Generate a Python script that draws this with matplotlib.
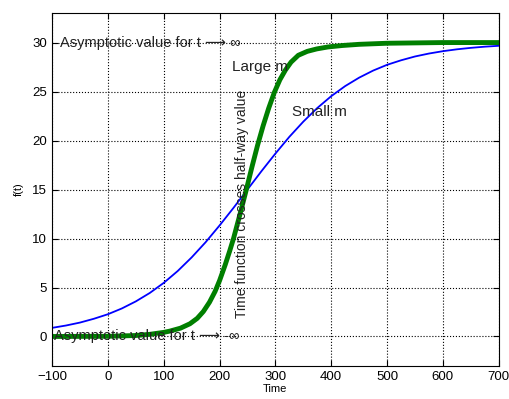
import matplotlib.pyplot as plt

# DATA
t_small = [-100, -75, -50, -25, 0, 25, 50, 75, 100, 125, 150, 175, 200, 225, 250,
           275, 300, 325, 350, 375, 400, 425, 450, 475, 500, 525, 550, 575, 600,
           625, 650, 675, 700]
f_small = [0.88, 1.12, 1.42, 1.81, 2.27, 2.86, 3.58, 4.44, 5.47, 6.68, 8.07, 9.62,
           11.33, 13.13, 15.0, 16.87, 18.67, 20.38, 21.93, 23.32, 24.53, 25.56,
           26.42, 27.14, 27.73, 28.19, 28.58, 28.88, 29.12, 29.31, 29.46, 29.58, 29.67]

t_large = [-100, 0, 50, 75, 100, 111, 130, 147, 160, 171, 182, 192, 200, 210, 218,
           225, 236, 248, 258, 268, 278, 288, 298, 308, 318, 328, 341, 357, 374,
           394, 420, 450, 500, 600, 700]
f_large = [0.0, 0.02, 0.1, 0.22, 0.42, 0.55, 0.85, 1.3, 1.85, 2.55, 3.5, 4.6, 5.7,
           7.3, 8.7, 10.0, 12.35, 15.0, 17.3, 19.5, 21.5, 23.3, 24.9, 26.2, 27.2,
           28.0, 28.7, 29.1, 29.35, 29.55, 29.7, 29.82, 29.93, 30.0, 30.0]

xticks = [-100, 0, 100, 200, 300, 400, 500, 600, 700]
yticks = [0, 5, 10, 15, 20, 25, 30]

plt.rcParams['font.family'] = ['Liberation Sans', 'DejaVu Sans']

fig = plt.figure(figsize=(5.1, 3.99), dpi=100)
ax = fig.add_axes([0.102, 0.083, 0.876, 0.884])

ax.plot(t_small, f_small, color='#0000ff', lw=1.3)
ax.plot(t_large, f_large, color='#007f00', lw=3.5, solid_joinstyle='round')

ax.set_xlim(-100, 700)
ax.set_ylim(-3, 33)
ax.set_xticks(xticks)
ax.set_yticks(yticks)
ax.tick_params(direction='in', top=True, right=True, labelsize=9.5, length=4)
ax.grid(True, linestyle=':', color='black', lw=0.8)
for s in ax.spines.values():
    s.set_linewidth(0.8)

ax.set_xlabel('Time', fontsize=8, labelpad=1)
ax.set_ylabel('f(t)', fontsize=8, labelpad=6)

# annotations
txt = dict(fontsize=10.5, va='center', color='#222222')
ax.text(-85, 30, 'Asymptotic value for t \u27f6 \u221e', **txt)
ax.text(-97, 0, 'Asymptotic value for t \u27f6 -\u221e', **txt)
ax.text(222, 27.5, 'Large m', fontsize=11, va='center', color='#222222')
ax.text(330, 22.9, 'Small m', fontsize=11, va='center', color='#222222')
ax.text(240, 1.9, 'Time function crosses half-way value', fontsize=10, rotation=90,
        ha='center', va='bottom', color='#222222')

plt.savefig('out.png', dpi=100)
